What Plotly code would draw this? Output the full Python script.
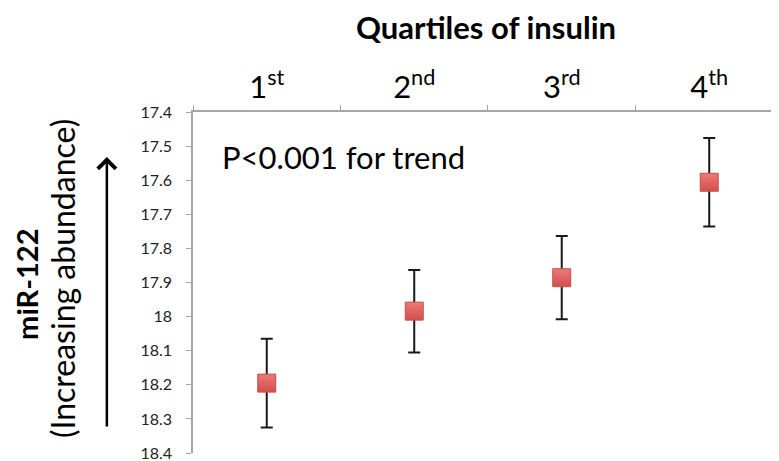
import plotly.graph_objects as go

quartiles = ["1st", "2nd", "3rd", "4th"]
quartile_labels = ["1<sup>st</sup>", "2<sup>nd</sup>", "3<sup>rd</sup>", "4<sup>th</sup>"]
mir122 = [18.195, 17.984, 17.886, 17.606]
err = [0.13, 0.121, 0.122, 0.13]
y_ticks = [17.4, 17.5, 17.6, 17.7, 17.8, 17.9, 18.0, 18.1, 18.2, 18.3, 18.4]

FONT = "Lato"
AX = "#a6a6a6"

fig = go.Figure()
fig.add_trace(go.Scatter(
    x=quartiles, y=mir122, mode="markers",
    marker=dict(symbol="square", size=18, color="#ec7a78",
                gradient=dict(type="vertical", color="#d24f4c"),
                line=dict(color="#c0504d", width=1)),
    error_y=dict(type="data", array=err, visible=True, color="#1a1a1a",
                 thickness=2, width=6),
    showlegend=False, cliponaxis=False,
))

# the page body has an 8px margin, so the figure is 8px smaller than the window
fig.update_layout(
    width=771, height=453,
    margin=dict(l=185, r=0, t=104, b=8),
    paper_bgcolor="white", plot_bgcolor="white",
    font=dict(family=FONT, color="#000"),
    xaxis=dict(side="top", type="category", categoryarray=quartiles,
               tickvals=quartiles, ticktext=quartile_labels,
               range=[-0.5, 3.473], tickson="boundaries",
               ticks="outside", ticklen=5, tickcolor=AX,
               showline=True, linecolor=AX, linewidth=1.5,
               showgrid=False, zeroline=False,
               tickfont=dict(size=31, family=FONT, color="#000"),
               ticklabelstandoff=0),
    yaxis=dict(range=[18.4, 17.4], tickvals=y_ticks,
               ticks="outside", ticklen=5, tickcolor=AX,
               showline=True, linecolor=AX, linewidth=1.5,
               showgrid=False, zeroline=False,
               tickfont=dict(size=16, family=FONT, color="#222"),
               ticklabelstandoff=11, ticklabeloverflow="allow"),
    annotations=[
        dict(text="<b>Quartiles of insulin</b>", xref="paper", yref="paper",
             x=0.5, y=1, yshift=85, showarrow=False, xanchor="center",
             yanchor="middle", font=dict(size=31, family=FONT)),
        dict(text="P<0.001 for trend", xref="paper", yref="paper",
             x=0.046, y=0.868, showarrow=False, xanchor="left",
             yanchor="middle", font=dict(size=31, family=FONT)),
        dict(text="<b>miR-122</b>", xref="paper", yref="paper",
             x=0, xshift=-166, y=0.493, textangle=-90, showarrow=False,
             xanchor="center", yanchor="middle", font=dict(size=29, family=FONT)),
        dict(text="(Increasing abundance)", xref="paper", yref="paper",
             x=0, xshift=-131, y=0.51, textangle=-90, showarrow=False,
             xanchor="center", yanchor="middle", font=dict(size=32, family=FONT)),
        dict(text="", xref="paper", yref="paper", x=-0.147, y=0.868,
             showarrow=True, ax=0, ay=271, axref="pixel", ayref="pixel",
             arrowhead=4, arrowsize=1.4, arrowwidth=2.5, arrowcolor="#000"),
    ],
)

fig.write_html("out.html")
